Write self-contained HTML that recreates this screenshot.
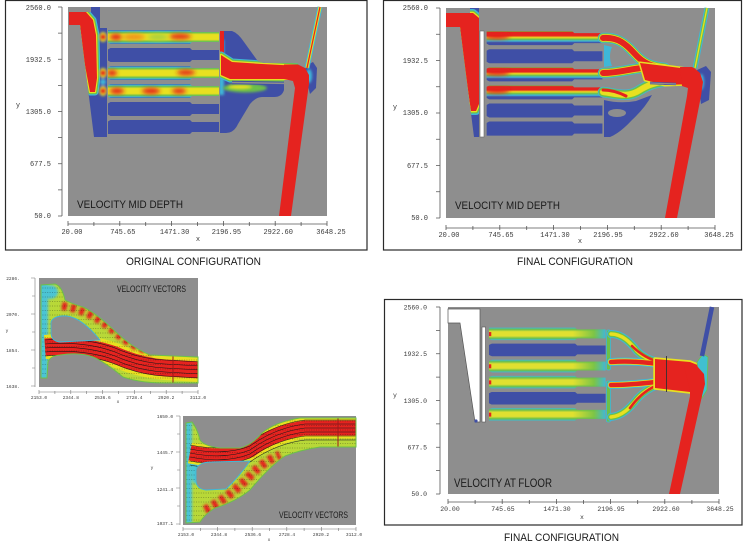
<!DOCTYPE html>
<html><head><meta charset="utf-8"><style>
html,body{margin:0;padding:0;background:#fff;}
svg{display:block;}
.m{font-family:"Liberation Mono",monospace;fill:#3a3a3a;}
.s{font-family:"Liberation Sans",sans-serif;fill:#1a1a1a;}
</style></head><body>
<svg width="743" height="551" viewBox="0 0 743 551" xmlns="http://www.w3.org/2000/svg" xmlns:xlink="http://www.w3.org/1999/xlink">
<defs>
<linearGradient id="gf" x1="0" y1="0" x2="0" y2="1">
 <stop offset="0" stop-color="#3f4fa6"/><stop offset=".07" stop-color="#3fb8d8"/><stop offset=".18" stop-color="#6cc04a"/><stop offset=".32" stop-color="#e8e020"/><stop offset=".68" stop-color="#e8e020"/><stop offset=".82" stop-color="#6cc04a"/><stop offset=".93" stop-color="#3fb8d8"/><stop offset="1" stop-color="#3f4fa6"/>
</linearGradient>
<linearGradient id="gr" x1="0" y1="0" x2="0" y2="1">
 <stop offset="0" stop-color="#6cc04a"/><stop offset=".08" stop-color="#e5231f"/><stop offset=".32" stop-color="#e5231f"/><stop offset=".46" stop-color="#e8e020"/><stop offset=".58" stop-color="#6cc04a"/><stop offset=".7" stop-color="#3fb8d8"/><stop offset=".82" stop-color="#3f4fa6"/><stop offset="1" stop-color="#3f4fa6"/>
</linearGradient>
<linearGradient id="gy" x1="0" y1="0" x2="0" y2="1">
 <stop offset="0" stop-color="#3fb8d8"/><stop offset=".15" stop-color="#6cc04a"/><stop offset=".33" stop-color="#e0e030"/><stop offset=".67" stop-color="#e0e030"/><stop offset=".85" stop-color="#6cc04a"/><stop offset="1" stop-color="#3fb8d8"/>
</linearGradient>
<linearGradient id="gfade" x1="0" y1="0" x2="1" y2="0">
 <stop offset=".72" stop-color="#6cc04a" stop-opacity="0"/><stop offset=".9" stop-color="#6cc04a" stop-opacity=".85"/><stop offset="1" stop-color="#3fb8d8"/>
</linearGradient>
<filter id="bl" x="-50%" y="-50%" width="200%" height="200%"><feGaussianBlur stdDeviation="2"/></filter>
<filter id="bl1" x="-50%" y="-50%" width="200%" height="200%"><feGaussianBlur stdDeviation="1.2"/></filter>

<path id="c1" d="M108,30H190L192,32H219V42H192L190,44H108Z"/>
<path id="c2" d="M108,48H190L192,50H219V60H192L190,62H108Z"/>
<path id="c3" d="M108,66H190L192,68H219V78H192L190,80H108Z"/>
<path id="c4" d="M108,84H190L192,86H219V96H192L190,98H108Z"/>
<path id="c5" d="M108,102H190L192,104H219V114H192L190,116H108Z"/>
<path id="c6" d="M108,120H190L192,122H219V132H192L190,134H108Z"/>
<g id="tips" fill="#8e8e8e">
 <polygon points="107,42 114,46 107,50"/><polygon points="107,60 114,64 107,68"/><polygon points="107,78 114,82 107,86"/><polygon points="107,96 114,100 107,104"/><polygon points="107,114 114,118 107,122"/>
</g>
<clipPath id="cp"><use xlink:href="#c1"/><use xlink:href="#c2"/><use xlink:href="#c3"/><use xlink:href="#c4"/><use xlink:href="#c5"/><use xlink:href="#c6"/></clipPath>

<polygon id="ch1" points="69,12 91,12 91,7 100,7 100,137 94,137 80,25 69,25"/>
<clipPath id="clch1"><use xlink:href="#ch1"/></clipPath>
<polygon id="rf1" points="69,12 86,12 93,20 96,35 97,78 95,92 90,92 84,60 80,25 69,25"/>

<path id="om1" d="M220,31 H232 Q238,33 244,42 L257,60 Q260,63 266,63 H298 V80 H284 V90 Q282,97 274,97 H262 Q256,97 250,104 L238,124 Q234,133 226,133 H220 Z"/>
<clipPath id="clom1"><use xlink:href="#om1"/></clipPath>
<polygon id="rb1" points="221,55 232,62 262,64 300,66 300,79 262,79 230,79 221,75"/>

<polygon id="ch2" points="446,13 470,13 470,8 479,8 479,137 474,137 460,27 446,27"/>
<clipPath id="clch2"><use xlink:href="#ch2"/></clipPath>
<polygon id="rf2" points="446,13 473,13 479,18 479,104 476,111 471,111 465,70 460,27 446,27"/>

<path id="fA" d="M41,285 L55,284 Q62,286 65,300 Q70,303 83,307 Q95,312 117,333 Q133,348 150,355 L198,357 L198,383 L165,383 Q140,383 123,377 Q105,362 93,357 Q80,352 60,355 Q50,356 48,362 L47,378 L41,378 Z"/>
<clipPath id="clA"><use xlink:href="#fA"/></clipPath>
<path id="fB" d="M186,423 L192,422 Q197,428 200,440 Q204,446 220,448 L240,448 Q252,445 262,433 Q275,422 300,418 L356,418 L356,447 L320,447 Q300,450 285,456 Q270,466 250,490 Q235,502 215,508 Q205,514 200,522 L186,523 Z"/>
<clipPath id="clB"><use xlink:href="#fB"/></clipPath>
</defs>

<rect width="743" height="551" fill="#fff"/>

<!-- ============ PANEL 1 ============ -->
<rect x="5.5" y="0.5" width="361.5" height="249.5" fill="none" stroke="#2a2a2a" stroke-width="1.2"/>
<rect x="68" y="7" width="259" height="209" fill="#8e8e8e"/>
<use xlink:href="#ch1" fill="#3f4fa6"/>
<g clip-path="url(#clch1)" stroke-linejoin="round">
 <use xlink:href="#rf1" fill="#3fb8d8" stroke="#3fb8d8" stroke-width="7"/>
 <use xlink:href="#rf1" fill="#6cc04a" stroke="#6cc04a" stroke-width="4.5"/>
 <use xlink:href="#rf1" fill="#e8e020" stroke="#e8e020" stroke-width="2.2"/>
 <use xlink:href="#rf1" fill="#e5231f"/>
</g>
<rect x="100" y="28" width="7" height="109" fill="#3f4fa6"/>
<g filter="url(#bl1)">
 <ellipse cx="103" cy="37" rx="4" ry="5" fill="#e8e020"/><ellipse cx="103" cy="37" rx="3" ry="3" fill="#e5231f"/>
 <ellipse cx="103" cy="73" rx="4" ry="5" fill="#e8e020"/><ellipse cx="103" cy="73" rx="3" ry="3" fill="#e5231f"/>
 <ellipse cx="103" cy="91" rx="4" ry="5" fill="#e8e020"/><ellipse cx="103" cy="91" rx="3" ry="3" fill="#e5231f"/>
 <ellipse cx="103" cy="82" rx="3" ry="3" fill="#3fb8d8"/>
</g>
<use xlink:href="#c1" fill="url(#gf)"/>
<use xlink:href="#c2" fill="#3f4fa6"/>
<use xlink:href="#c3" fill="url(#gf)"/>
<use xlink:href="#c4" fill="url(#gf)"/>
<use xlink:href="#c5" fill="#3f4fa6"/>
<use xlink:href="#c6" fill="#3f4fa6"/>
<g clip-path="url(#cp)"><g filter="url(#bl)">
 <ellipse cx="116" cy="37" rx="6" ry="3" fill="#e5231f"/>
 <ellipse cx="134" cy="37" rx="11" ry="3" fill="#f0901e"/>
 <ellipse cx="158" cy="37" rx="10" ry="3" fill="#a8d040"/>
 <ellipse cx="180" cy="36.5" rx="11" ry="2.6" fill="#e5231f"/>
 <ellipse cx="112" cy="73" rx="5" ry="3" fill="#e5231f"/>
 <ellipse cx="186" cy="72.5" rx="9" ry="2.6" fill="#e5231f"/>
 <ellipse cx="117" cy="91" rx="7" ry="3" fill="#e5231f"/>
 <ellipse cx="151" cy="91" rx="9" ry="3" fill="#e5231f"/>
 <ellipse cx="179" cy="91" rx="7" ry="2.6" fill="#e5231f"/>
</g></g>
<use xlink:href="#tips"/>
<use xlink:href="#om1" fill="#3f4fa6"/>
<g clip-path="url(#clom1)" stroke-linejoin="round">
 <rect x="219" y="40" width="5" height="55" fill="#3fb8d8" filter="url(#bl1)"/>
 <rect x="219" y="31" width="5" height="22" fill="#e5231f"/>
 <ellipse cx="245" cy="88" rx="22" ry="4.5" fill="#6cc04a" filter="url(#bl1)"/>
 <ellipse cx="240" cy="87" rx="12" ry="2" fill="#e8e020" filter="url(#bl1)"/>
 <use xlink:href="#rb1" fill="#3fb8d8" stroke="#3fb8d8" stroke-width="7"/>
 <use xlink:href="#rb1" fill="#6cc04a" stroke="#6cc04a" stroke-width="5"/>
 <use xlink:href="#rb1" fill="#e8e020" stroke="#e8e020" stroke-width="2.6"/>
 <use xlink:href="#rb1" fill="#e5231f"/>
 <line x1="232" y1="82.5" x2="292" y2="83.5" stroke="#3f4fa6" stroke-width="3.5"/>
 <line x1="232" y1="82.5" x2="292" y2="83.5" stroke="#8e8e8e" stroke-width="1.5"/>
</g>
<polygon points="305,66 313,62 317,68 316,88 310,94 308,86" fill="#3f4fa6"/>
<ellipse cx="309" cy="76" rx="3" ry="7" fill="#3fb8d8" filter="url(#bl1)"/>
<polygon points="284,64.5 298,64.5 305,68 309,75 309,84 291,216 279,216 295,88 293,81 284,79" fill="#e5231f"/>
<line x1="320" y1="7" x2="307" y2="68" stroke="#3fb8d8" stroke-width="5"/>
<line x1="320" y1="7" x2="307" y2="68" stroke="#e8e020" stroke-width="3"/>
<line x1="320" y1="7" x2="307" y2="68" stroke="#e5231f" stroke-width="1.2"/>
<text class="s" x="77" y="208" font-size="11" textLength="106" lengthAdjust="spacingAndGlyphs">VELOCITY MID DEPTH</text>
<g stroke="#555" stroke-width=".8" fill="none">
 <path d="M62,7V216M58,7H62M58,33.1H62M58,59.25H62M58,85.4H62M58,111.5H62M58,137.6H62M58,163.75H62M58,189.9H62M58,216H62"/>
 <path d="M68,224H327M68,221V226M93.9,222V226M119.8,221V226M145.7,222V226M171.6,221V226M197.5,222V226M223.4,221V226M249.3,222V226M275.2,221V226M301.1,222V226M327,221V226"/>
</g>
<g class="m" font-size="7" text-anchor="end">
 <text x="51" y="10">2560.0</text><text x="51" y="62">1932.5</text><text x="51" y="114">1305.0</text><text x="51" y="166">677.5</text><text x="51" y="218">50.0</text>
</g>
<g class="m" font-size="7" text-anchor="middle">
 <text x="72" y="234">20.00</text><text x="122.8" y="234">745.65</text><text x="174.6" y="234">1471.30</text><text x="226.4" y="234">2196.95</text><text x="278.2" y="234">2922.60</text><text x="331" y="234">3648.25</text>
 <text x="198" y="241">x</text><text x="18" y="107">y</text>
</g>
<text class="s" x="126" y="265" font-size="11" textLength="135" lengthAdjust="spacingAndGlyphs">ORIGINAL CONFIGURATION</text>

<!-- ============ PANEL 2 ============ -->
<rect x="383.5" y="0.5" width="358" height="249.5" fill="none" stroke="#2a2a2a" stroke-width="1.2"/>
<rect x="446" y="8" width="269" height="210" fill="#8e8e8e"/>
<use xlink:href="#ch2" fill="#3f4fa6"/>
<g clip-path="url(#clch2)" stroke-linejoin="round">
 <use xlink:href="#rf2" fill="#3fb8d8" stroke="#3fb8d8" stroke-width="8"/>
 <use xlink:href="#rf2" fill="#6cc04a" stroke="#6cc04a" stroke-width="5"/>
 <use xlink:href="#rf2" fill="#e8e020" stroke="#e8e020" stroke-width="2.5"/>
 <use xlink:href="#rf2" fill="#e5231f"/>
 <rect x="458" y="8" width="12" height="5" fill="#6cc04a"/>
</g>
<rect x="480" y="31" width="4" height="106" fill="#fff" stroke="#666" stroke-width=".6"/>
<g transform="matrix(1.0427 0 0 1.0048 374.05 0.966)">
 <use xlink:href="#c1" fill="url(#gr)"/>
 <use xlink:href="#c2" fill="#3f4fa6"/>
 <use xlink:href="#c3" fill="url(#gr)"/>
 <use xlink:href="#c4" fill="url(#gr)"/>
 <use xlink:href="#c5" fill="#3f4fa6"/>
 <use xlink:href="#c6" fill="#3f4fa6"/>
 <g clip-path="url(#cp)"><g filter="url(#bl)">
  <ellipse cx="118" cy="35" rx="12" ry="3" fill="#e5231f"/>
  <ellipse cx="118" cy="71" rx="12" ry="3" fill="#e5231f"/>
  <ellipse cx="118" cy="89" rx="12" ry="3" fill="#e5231f"/>
 </g></g>
 <use xlink:href="#tips"/>
</g>
<path d="M604,100 Q620,104 636,101 L652,95 Q645,108 632,120 Q620,133 610,137 H604 Z" fill="#3f4fa6"/>
<ellipse cx="617" cy="113" rx="9" ry="4" fill="#8e8e8e"/>
<path d="M604,45 L612,47 Q608,56 612,66 L604,67 Z" fill="#3fb8d8"/>
<g fill="none" stroke-linecap="round">
 <path d="M603,38 C618,37 626,44 635,54 C643,63 652,67 665,68" stroke="#3fb8d8" stroke-width="10.5"/>
 <path d="M603,73 C618,73 630,69 642,68 L665,69" stroke="#3fb8d8" stroke-width="10.5"/>
 <path d="M603,92 C618,94 628,98 640,90 C648,85 656,82 670,81" stroke="#3fb8d8" stroke-width="10.5"/>
 <path d="M603,38 C618,37 626,44 635,54 C643,63 652,67 665,68" stroke="#6cc04a" stroke-width="9"/>
 <path d="M603,73 C618,73 630,69 642,68 L665,69" stroke="#6cc04a" stroke-width="9"/>
 <path d="M603,92 C618,94 628,98 640,90 C648,85 656,82 670,81" stroke="#6cc04a" stroke-width="9"/>
 <path d="M603,38 C618,37 626,44 635,54 C643,63 652,67 665,68" stroke="#e8e020" stroke-width="7.5"/>
 <path d="M603,73 C618,73 630,69 642,68 L665,69" stroke="#e8e020" stroke-width="7.5"/>
 <path d="M603,92 C618,94 628,98 640,90 C648,85 656,82 670,81" stroke="#e8e020" stroke-width="6"/>
 <path d="M603,38 C618,37 626,44 635,54 C643,63 652,67 665,68" stroke="#e5231f" stroke-width="6"/>
 <path d="M603,73 C618,73 630,69 642,68 L665,69" stroke="#e5231f" stroke-width="6"/>
 <path d="M603,90 C612,90 620,93 626,96" stroke="#e5231f" stroke-width="3"/>
</g>
<polygon points="640,63 665,66 688,69 692,84 665,85 645,80" fill="#e8e020" stroke="#e8e020" stroke-width="3" stroke-linejoin="round"/>
<polygon points="640,63 665,66 688,69 692,84 665,85 645,80" fill="#e5231f"/>
<line x1="650" y1="83" x2="676" y2="84" stroke="#3f4fa6" stroke-width="2.5"/>
<line x1="650" y1="83" x2="676" y2="84" stroke="#8e8e8e" stroke-width="1.2"/>
<polygon points="697,70 706,66 711,72 709,100 701,104" fill="#3f4fa6"/>
<ellipse cx="701" cy="82" rx="3" ry="8" fill="#3fb8d8" filter="url(#bl1)"/>
<polygon points="680,67 693,67 700,73 703,82 701,96 677,218 665,218 687,96 688,88 682,86" fill="#e5231f"/>
<line x1="707" y1="8" x2="695" y2="68" stroke="#3fb8d8" stroke-width="5"/>
<line x1="707" y1="8" x2="695" y2="68" stroke="#6cc04a" stroke-width="3"/>
<line x1="707" y1="8" x2="695" y2="68" stroke="#e8e020" stroke-width="1.3"/>
<text class="s" x="455" y="209" font-size="11" textLength="105" lengthAdjust="spacingAndGlyphs">VELOCITY MID DEPTH</text>
<g stroke="#555" stroke-width=".8" fill="none">
 <path d="M440,8V218M436,8H440M436,34.25H440M436,60.5H440M436,86.75H440M436,113H440M436,139.25H440M436,165.5H440M436,191.75H440M436,218H440"/>
 <path d="M446,228H715M446,225V230M472.9,226V230M499.8,225V230M526.7,226V230M553.6,225V230M580.5,226V230M607.4,225V230M634.3,226V230M661.2,225V230M688.1,226V230M715,225V230"/>
</g>
<g class="m" font-size="7" text-anchor="end">
 <text x="428" y="10">2560.0</text><text x="428" y="63">1932.5</text><text x="428" y="115">1305.0</text><text x="428" y="168">677.5</text><text x="428" y="220">50.0</text>
</g>
<g class="m" font-size="7" text-anchor="middle">
 <text x="449" y="237">20.00</text><text x="501" y="237">745.65</text><text x="555" y="237">1471.30</text><text x="608" y="237">2196.95</text><text x="664" y="237">2922.60</text><text x="719" y="237">3648.25</text>
 <text x="580" y="243">x</text><text x="395" y="109">y</text>
</g>
<text class="s" x="517" y="265" font-size="11" textLength="116" lengthAdjust="spacingAndGlyphs">FINAL CONFIGURATION</text>

<!-- ============ PANEL 3 ============ -->
<rect x="384.5" y="299.5" width="357.5" height="225.5" fill="none" stroke="#2a2a2a" stroke-width="1.2"/>
<rect x="448" y="307" width="271" height="187" fill="#8e8e8e"/>
<polygon points="448,309 480,309 480,422 475,422 460,323 448,323" fill="#fff" stroke="#555" stroke-width=".7"/>
<circle cx="476" cy="421" r="1.6" fill="#3f4fa6"/>
<rect x="482" y="327" width="3.5" height="95" fill="#fff" stroke="#555" stroke-width=".6"/>
<g transform="matrix(1.0504 0 0 0.8947 375.52 300.74)">
 <use xlink:href="#c1" fill="url(#gy)"/><use xlink:href="#c1" fill="url(#gfade)"/>
 <use xlink:href="#c2" fill="#3f4fa6"/>
 <use xlink:href="#c3" fill="url(#gy)"/><use xlink:href="#c3" fill="url(#gfade)"/>
 <use xlink:href="#c4" fill="url(#gy)"/><use xlink:href="#c4" fill="url(#gfade)"/>
 <use xlink:href="#c5" fill="#3f4fa6"/>
 <use xlink:href="#c6" fill="url(#gy)"/><use xlink:href="#c6" fill="url(#gfade)"/>
 <use xlink:href="#tips"/>
 <g fill="#e5231f"><rect x="108" y="35" width="2.2" height="4.5"/><rect x="108" y="71" width="2.2" height="4.5"/><rect x="108" y="89" width="2.2" height="4.5"/><rect x="108" y="125" width="2.2" height="4.5"/></g>
</g>
<rect x="606.5" y="330" width="4" height="40" rx="1.5" fill="#6cc04a" stroke="#3fb8d8" stroke-width=".8"/>
<rect x="606.5" y="381" width="4" height="41" rx="1.5" fill="#6cc04a" stroke="#3fb8d8" stroke-width=".8"/>
<g fill="none" stroke-linecap="round">
 <path d="M611,334 C622,334 630,342 637,351 C644,358 652,361 664,363" stroke="#3fb8d8" stroke-width="8"/>
 <path d="M611,362 C625,361 640,361 664,365" stroke="#3fb8d8" stroke-width="8"/>
 <path d="M611,385 C625,385 640,384 664,381" stroke="#3fb8d8" stroke-width="8"/>
 <path d="M611,417 C622,416 630,408 637,399 C644,391 652,386 664,383" stroke="#3fb8d8" stroke-width="8"/>
 <path d="M611,334 C622,334 630,342 637,351 C644,358 652,361 664,363" stroke="#6cc04a" stroke-width="6"/>
 <path d="M611,417 C622,416 630,408 637,399 C644,391 652,386 664,383" stroke="#6cc04a" stroke-width="6"/>
 <path d="M611,362 C625,361 640,361 664,365" stroke="#e8e020" stroke-width="6"/>
 <path d="M611,385 C625,385 640,384 664,381" stroke="#e8e020" stroke-width="6"/>
 <path d="M611,334 C622,334 630,342 637,351 C644,358 652,361 664,363" stroke="#e8e020" stroke-width="3.5"/>
 <path d="M611,417 C622,416 630,408 637,399 C644,391 652,386 664,383" stroke="#e8e020" stroke-width="3.5"/>
 <path d="M611,362 C625,361 640,361 664,365" stroke="#e5231f" stroke-width="4.5"/>
 <path d="M611,385 C625,385 640,384 664,381" stroke="#e5231f" stroke-width="4.5"/>
 <path d="M632,346 C642,356 652,361 664,363" stroke="#e5231f" stroke-width="2.6"/>
 <path d="M630,408 C640,394 652,386 664,383" stroke="#e5231f" stroke-width="2.6"/>
</g>
<polygon points="655,359 690,362 700,366 700,390 690,392 655,388" fill="#e8e020" stroke="#e8e020" stroke-width="3.5" stroke-linejoin="round"/>
<polygon points="655,359 690,362 700,366 700,390 690,392 655,388" fill="#e5231f"/>
<line x1="666.5" y1="356" x2="666.5" y2="392" stroke="#333" stroke-width=".9"/>
<polygon points="697,362 703,354 708,357 707,390 702,398" fill="#40c0d0" stroke="#6cc04a" stroke-width=".8"/>
<polygon points="684,366 697,366 704,374 705,384 702,396 680,494 669,494 690,396 690,390" fill="#e5231f"/>
<line x1="712" y1="307" x2="702" y2="356" stroke="#3f4fa6" stroke-width="4.5"/>
<text class="s" x="454" y="487" font-size="12" textLength="98" lengthAdjust="spacingAndGlyphs">VELOCITY AT FLOOR</text>
<g stroke="#555" stroke-width=".8" fill="none">
 <path d="M440,307V494M436,307H440M436,330.4H440M436,353.75H440M436,377.1H440M436,400.5H440M436,423.9H440M436,447.25H440M436,470.6H440M436,494H440"/>
 <path d="M448,502H719M448,499V504M475.1,500V504M502.2,499V504M529.3,500V504M556.4,499V504M583.5,500V504M610.6,499V504M637.7,500V504M664.8,499V504M691.9,500V504M719,499V504"/>
</g>
<g class="m" font-size="6.5" text-anchor="end">
 <text x="427" y="309.5">2560.0</text><text x="427" y="356">1932.5</text><text x="427" y="403">1305.0</text><text x="427" y="449.5">677.5</text><text x="427" y="496">50.0</text>
</g>
<g class="m" font-size="6.5" text-anchor="middle">
 <text x="450" y="511">20.00</text><text x="503" y="511">745.65</text><text x="557" y="511">1471.30</text><text x="611" y="511">2196.95</text><text x="666" y="511">2922.60</text><text x="720" y="511">3648.25</text>
 <text x="582" y="519">x</text><text x="395" y="397">y</text>
</g>
<text class="s" x="504" y="541" font-size="11" textLength="115" lengthAdjust="spacingAndGlyphs">FINAL CONFIGURATION</text>

<!-- ============ SMALL PANEL A ============ -->
<rect x="39" y="278" width="159" height="109" fill="#8e8e8e"/>
<use xlink:href="#fA" fill="#b8d838"/>
<g clip-path="url(#clA)">
 <rect x="38" y="280" width="10" height="100" fill="#4cc4d4" filter="url(#bl1)"/>
 <ellipse cx="50" cy="292" rx="8" ry="7" fill="#4cc4d4" filter="url(#bl1)"/>
 <path d="M45,347 Q85,344 115,355 Q140,366 165,368 L200,370" fill="none" stroke="#e8e020" stroke-width="24"/>
 <path d="M45,347 Q85,344 115,355 Q140,366 165,368 L200,370" fill="none" stroke="#e5231f" stroke-width="17"/>
 <path d="M62,306 Q90,310 115,332 Q132,347 152,352" fill="none" stroke="#e5231f" stroke-width="8" stroke-dasharray="5 4" filter="url(#bl1)"/>
 <path d="M40,288H198M40,292.5H198M40,297H198M40,301.5H198M40,306H198M40,310.5H198M40,315H198M40,319.5H198M40,324H198M40,328.5H198M40,333H198M40,337.5H198M40,342H198M40,346.5H198M40,351H198M40,355.5H198M40,360H198M40,364.5H198M40,369H198M40,373.5H198M40,378H198M40,382.5H198" stroke="#111" stroke-width=".6" stroke-dasharray="1 1.4" opacity=".55"/>
 <g fill="none" stroke="#1a1a1a" stroke-width=".6">
  <path d="M45,340 Q85,337 115,348 Q140,359 165,360 L200,362"/>
  <path d="M45,344 Q85,341 115,352 Q140,363 165,364 L200,366"/>
  <path d="M45,348 Q85,345 115,356 Q140,367 165,368 L200,370"/>
  <path d="M45,352 Q85,349 115,360 Q140,371 165,372 L200,374"/>
  <path d="M45,356 Q85,353 115,364 Q140,375 165,376 L200,378"/>
 </g>
 <line x1="173" y1="350" x2="173" y2="385" stroke="#a01818" stroke-width="1"/>
</g>
<use xlink:href="#fA" fill="none" stroke="#6cc04a" stroke-width="1"/>
<path d="M51,322 Q54,315 67,316 Q82,318 100,340 L60,342 Q51,341 51,333 Z" fill="#8e8e8e" stroke="#3fb8d8" stroke-width=".9"/>
<text class="s" x="117" y="292" font-size="9" textLength="69" lengthAdjust="spacingAndGlyphs">VELOCITY VECTORS</text>
<g stroke="#777" stroke-width=".6" fill="none">
 <path d="M35,278V387M31,278H35M32,296H35M31,314H35M32,332H35M31,350H35M32,368H35M31,386H35"/>
 <path d="M39,392H198M39,390V394M54.9,391V394M70.8,390V394M86.7,391V394M102.6,390V394M118.5,391V394M134.4,390V394M150.3,391V394M166.2,390V394M182.1,391V394M198,390V394"/>
</g>
<g class="m" font-size="4.5" text-anchor="middle" fill="#666">
 <text x="13" y="280">2286.</text><text x="13" y="316">2070.</text><text x="13" y="352">1854.</text><text x="13" y="388">1638.</text>
 <text x="39" y="399">2153.0</text><text x="70.8" y="399">2344.8</text><text x="102.6" y="399">2536.6</text><text x="134.4" y="399">2728.4</text><text x="166.2" y="399">2920.2</text><text x="198" y="399">3112.0</text>
 <text x="118" y="403">x</text><text x="7" y="332">y</text>
</g>

<!-- ============ SMALL PANEL B ============ -->
<rect x="183" y="416" width="173" height="109" fill="#8e8e8e"/>
<use xlink:href="#fB" fill="#b8d838"/>
<g clip-path="url(#clB)">
 <rect x="183" y="420" width="9" height="105" fill="#4cc4d4" filter="url(#bl1)"/>
 <ellipse cx="196" cy="470" rx="6" ry="14" fill="#4cc4d4" filter="url(#bl1)"/>
 <path d="M190,453 Q225,460 250,450 Q275,432 305,428 L360,428" fill="none" stroke="#e8e020" stroke-width="21"/>
 <path d="M190,453 Q225,460 250,450 Q275,432 305,428 L360,428" fill="none" stroke="#e5231f" stroke-width="15"/>
 <path d="M205,510 Q228,498 248,478 Q262,462 280,455" fill="none" stroke="#e5231f" stroke-width="9" stroke-dasharray="5 4" filter="url(#bl1)"/>
 <path d="M184,421H356M184,425.5H356M184,430H356M184,434.5H356M184,439H356M184,443.5H356M184,448H356M184,452.5H356M184,457H356M184,461.5H356M184,466H356M184,470.5H356M184,475H356M184,479.5H356M184,484H356M184,488.5H356M184,493H356M184,497.5H356M184,502H356M184,506.5H356M184,511H356M184,515.5H356M184,520H356" stroke="#111" stroke-width=".6" stroke-dasharray="1 1.4" opacity=".55"/>
 <g fill="none" stroke="#1a1a1a" stroke-width=".6">
  <path d="M190,445 Q225,452 250,442 Q275,424 305,420 L360,420"/>
  <path d="M190,449 Q225,456 250,446 Q275,428 305,424 L360,424"/>
  <path d="M190,453 Q225,460 250,450 Q275,432 305,428 L360,428"/>
  <path d="M190,457 Q225,464 250,454 Q275,436 305,432 L360,432"/>
  <path d="M190,461 Q225,468 250,458 Q275,440 305,436 L360,436"/>
  <path d="M190,465 Q225,472 250,462 Q275,444 305,440 L360,440"/>
 </g>
 <line x1="338" y1="418" x2="338" y2="449" stroke="#a01818" stroke-width="1"/>
</g>
<use xlink:href="#fB" fill="none" stroke="#6cc04a" stroke-width="1"/>
<path d="M196,470 Q198,462 212,462 L250,461 Q238,478 226,489 L206,490 Q196,489 196,480 Z" fill="#8e8e8e" stroke="#3fb8d8" stroke-width=".9"/>
<text class="s" x="279" y="518" font-size="9" textLength="69" lengthAdjust="spacingAndGlyphs">VELOCITY VECTORS</text>
<g stroke="#777" stroke-width=".6" fill="none">
 <path d="M180,416V525M176,416H180M177,434H180M176,452H180M177,470H180M176,488H180M177,506H180M176,524H180"/>
 <path d="M183,529H356M183,527V531M200.3,528V531M217.6,527V531M234.9,528V531M252.2,527V531M269.5,528V531M286.8,527V531M304.1,528V531M321.4,527V531M338.7,528V531M356,527V531"/>
</g>
<g class="m" font-size="4.5" text-anchor="middle" fill="#666">
 <text x="165" y="418">1650.0</text><text x="165" y="454">1445.7</text><text x="165" y="491">1241.4</text><text x="165" y="525">1037.1</text>
 <text x="186" y="536">2153.0</text><text x="219" y="536">2344.8</text><text x="253" y="536">2536.6</text><text x="287" y="536">2728.4</text><text x="321" y="536">2920.2</text><text x="354" y="536">3112.0</text>
 <text x="269" y="541">x</text><text x="152" y="469">y</text>
</g>
</svg>
</body></html>
